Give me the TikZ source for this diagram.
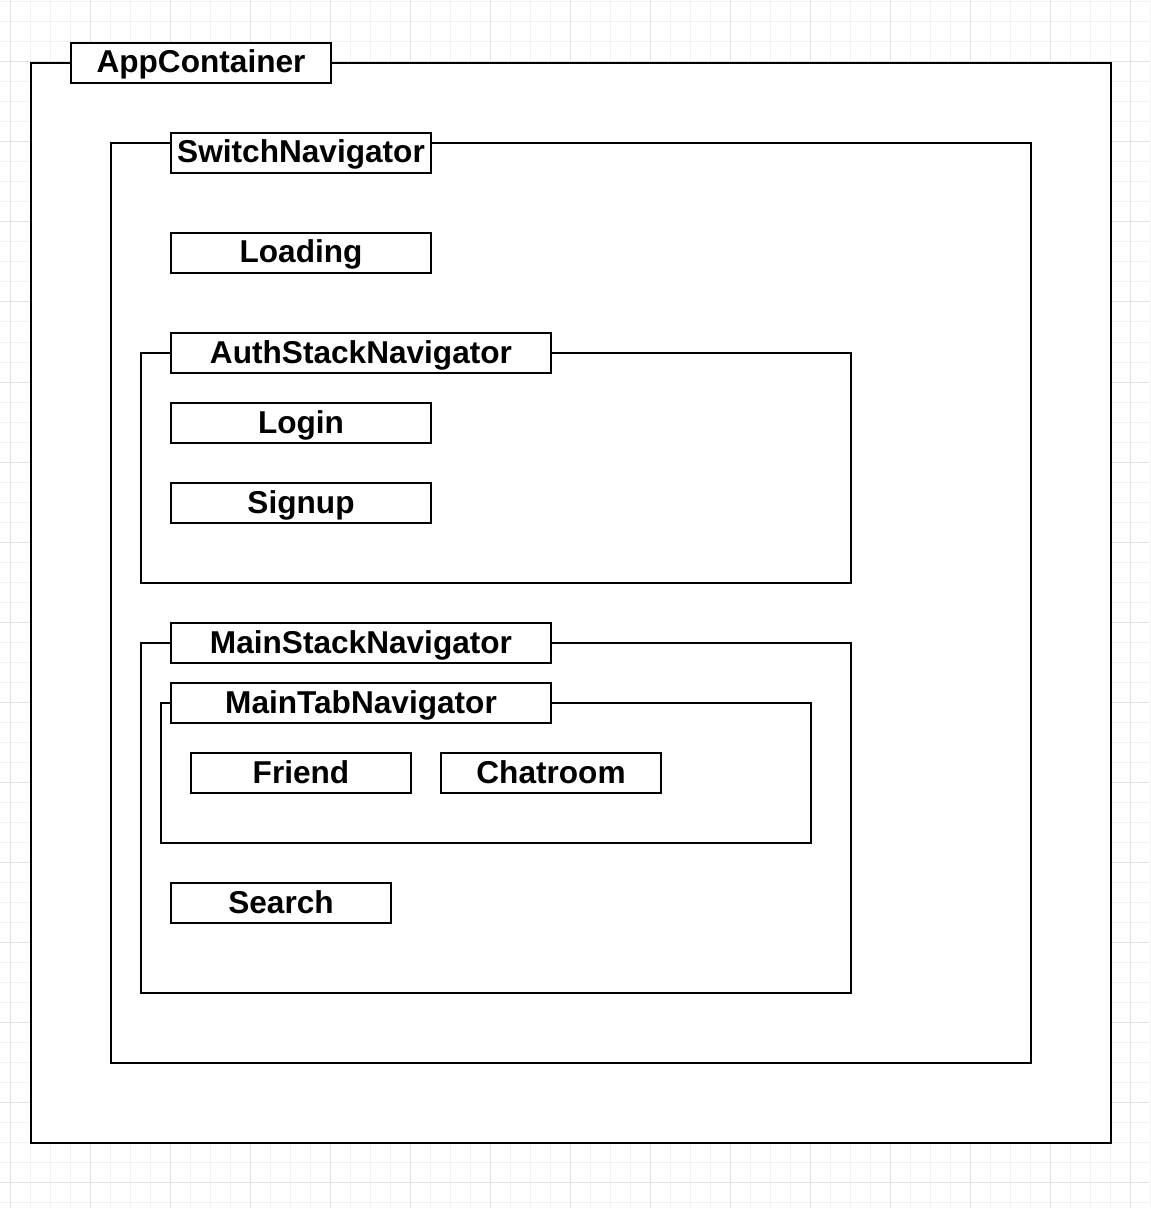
\documentclass[tikz,border=0pt]{standalone}
\usepackage{fontspec}
\setmainfont{Liberation Sans}
\definecolor{gridMinor}{HTML}{F2F2F2}
\definecolor{gridMajor}{HTML}{E2E2E2}

\begin{document}
\begin{tikzpicture}[x=0.5pt,y=-0.5pt,
    nav/.style={draw,fill=white,line width=1pt,inner sep=0pt,
        text height=11.75pt,text depth=1.75pt,
        font=\fontsize{15.8}{19}\selectfont\bfseries},
    sz/.style 2 args={minimum width=#1*0.5pt,minimum height=#2*0.5pt},
    gridline/.style={line width=0.5pt}]
    \useasboundingbox (0,0) rectangle (1150,1208);
    \fill[white] (0,0) rectangle (1150,1208);
    % background grid
    \foreach \x in {10,30,...,1150} \draw[gridline,gridMinor] (\x,0) -- (\x,1208);
    \foreach \y in {2,22,...,1208} \draw[gridline,gridMinor] (0,\y) -- (1150,\y);
    \foreach \x in {10,90,...,1150} \draw[gridline,gridMajor] (\x,0) -- (\x,1208);
    \foreach \y in {62,142,...,1208} \draw[gridline,gridMajor] (0,\y) -- (1150,\y);

    \node[nav,sz={1080}{1080}] (app) at (571,603) {};
    \node[nav,sz={260}{40}] (appTag) at (201,63) {AppContainer};

    \node[nav,sz={920}{920}] (switch) at (571,603) {};
    \node[nav,sz={260}{40}] (switchTag) at (301,153) {SwitchNavigator};
    \node[nav,sz={260}{40}] (loading) at (301,253) {Loading};

    \node[nav,sz={710}{230}] (auth) at (496,468) {};
    \node[nav,sz={380}{40}] (authTag) at (361,353) {AuthStackNavigator};
    \node[nav,sz={260}{40}] (login) at (301,423) {Login};
    \node[nav,sz={260}{40}] (signup) at (301,503) {Signup};

    \node[nav,sz={710}{350}] (mainStack) at (496,818) {};
    \node[nav,sz={380}{40}] (mainStackTag) at (361,643) {MainStackNavigator};
    \node[nav,sz={650}{140}] (mainTab) at (486,773) {};
    \node[nav,sz={380}{40}] (mainTabTag) at (361,703) {MainTabNavigator};
    \node[nav,sz={220}{40}] (friend) at (301,773) {Friend};
    \node[nav,sz={220}{40}] (chatroom) at (551,773) {Chatroom};
    \node[nav,sz={220}{40}] (search) at (281,903) {Search};
\end{tikzpicture}
\end{document}
